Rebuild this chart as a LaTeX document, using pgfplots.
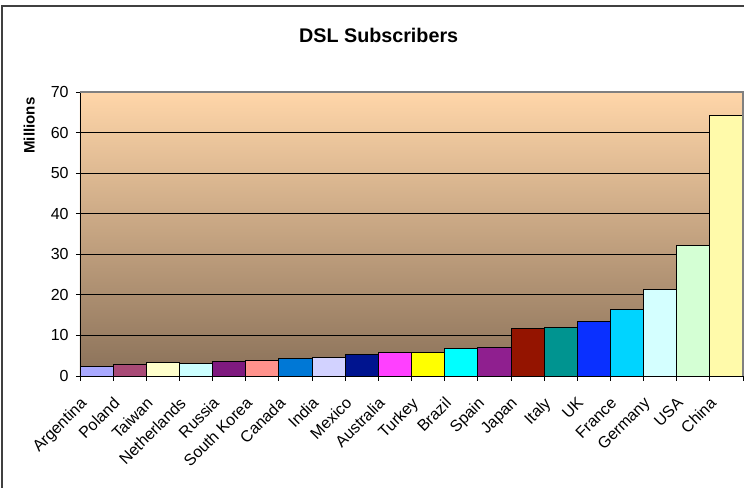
\documentclass[border=0pt]{standalone}
\usepackage{fontspec}
\setmainfont{Liberation Sans}
\usepackage{pgfplots}
\pgfplotsset{compat=1.18}

% bar fills, one per country
\definecolor{cArg}{HTML}{A9A9FF}
\definecolor{cPol}{HTML}{A84A76}
\definecolor{cTai}{HTML}{FFFFCC}
\definecolor{cNet}{HTML}{CCFFFF}
\definecolor{cRus}{HTML}{7F1A7F}
\definecolor{cKor}{HTML}{FF928C}
\definecolor{cCan}{HTML}{0078D6}
\definecolor{cInd}{HTML}{D2D2FF}
\definecolor{cMex}{HTML}{00148F}
\definecolor{cAus}{HTML}{FF40FF}
\definecolor{cTur}{HTML}{FFFF00}
\definecolor{cBra}{HTML}{00FFFF}
\definecolor{cSpa}{HTML}{8F1F8F}
\definecolor{cJap}{HTML}{941400}
\definecolor{cIta}{HTML}{009490}
\definecolor{cUK}{HTML}{0A30FF}
\definecolor{cFra}{HTML}{00D4FF}
\definecolor{cGer}{HTML}{D4FFFF}
\definecolor{cUSA}{HTML}{D4FFD4}
\definecolor{cChi}{HTML}{FFFAAA}
% plot area shading
\definecolor{bgTop}{HTML}{FFD6A9}
\definecolor{bgMid}{HTML}{CDAA85}
\definecolor{bgBot}{HTML}{8A7159}

\begin{document}
\begin{tikzpicture}
\useasboundingbox (0,0) rectangle (558pt,365.25pt);
% chart frame
\draw[black!75, line width=1.1pt] (1.5pt,360.75pt) rectangle (575pt,-10pt);
% title and value axis caption
\node[font=\fontsize{14.8}{16}\selectfont\bfseries] at (284pt,339pt) {DSL Subscribers};
\node[font=\fontsize{11.3}{13}\selectfont\bfseries, rotate=90] at (22pt,271pt) {Millions};
\begin{axis}[
  at={(60pt,83.25pt)}, anchor=south west,
  width=497.25pt, height=213pt, scale only axis,
  xmin=-0.5, xmax=19.5, ymin=0, ymax=70,
  ytick={0,10,...,70},
  xtick={0,...,19},
  xticklabels={Argentina,Poland,Taiwan,Netherlands,Russia,South Korea,Canada,India,Mexico,Australia,Turkey,Brazil,Spain,Japan,Italy,UK,France,Germany,USA,China},
  minor xtick={-0.5,0.5,...,19.5},
  major x tick style={draw=none},
  minor x tick style={black, line width=0.6pt},
  major y tick style={black, line width=0.6pt},
  tick align=outside,
  major tick length=3pt, minor tick length=3.5pt,
  axis x line*=bottom, axis y line*=left,
  axis line style={black, line width=0.7pt},
  ymajorgrids, grid style={black, line width=0.7pt},
  axis background/.style={shade, top color=bgTop, middle color=bgMid, bottom color=bgBot},
  /pgf/number format/assume math mode=true,
  tick label style={font=\fontsize{12}{14}\selectfont},
  yticklabel style={xshift=-2pt},
  xticklabel style={xshift=-13pt, yshift=-10.5pt, rotate=45, anchor=north east, inner sep=1pt},
  ybar, bar width=1,
  every axis plot/.append style={bar shift=0pt, draw=black, line width=0.6pt},
  after end axis/.code={
    \draw[gray, line width=0.8pt] (rel axis cs:0,1) -- (rel axis cs:1,1) -- (rel axis cs:1,0);
  },
]
\addplot[fill=cArg] coordinates {(0,2.3)};
\addplot[fill=cPol] coordinates {(1,2.95)};
\addplot[fill=cTai] coordinates {(2,3.3)};
\addplot[fill=cNet] coordinates {(3,3.2)};
\addplot[fill=cRus] coordinates {(4,3.7)};
\addplot[fill=cKor] coordinates {(5,3.95)};
\addplot[fill=cCan] coordinates {(6,4.3)};
\addplot[fill=cInd] coordinates {(7,4.7)};
\addplot[fill=cMex] coordinates {(8,5.25)};
\addplot[fill=cAus] coordinates {(9,5.85)};
\addplot[fill=cTur] coordinates {(10,5.75)};
\addplot[fill=cBra] coordinates {(11,6.8)};
\addplot[fill=cSpa] coordinates {(12,7.15)};
\addplot[fill=cJap] coordinates {(13,11.7)};
\addplot[fill=cIta] coordinates {(14,12.0)};
\addplot[fill=cUK] coordinates {(15,13.55)};
\addplot[fill=cFra] coordinates {(16,16.5)};
\addplot[fill=cGer] coordinates {(17,21.4)};
\addplot[fill=cUSA] coordinates {(18,32.3)};
\addplot[fill=cChi] coordinates {(19,64.3)};
\end{axis}
\end{tikzpicture}
\end{document}
